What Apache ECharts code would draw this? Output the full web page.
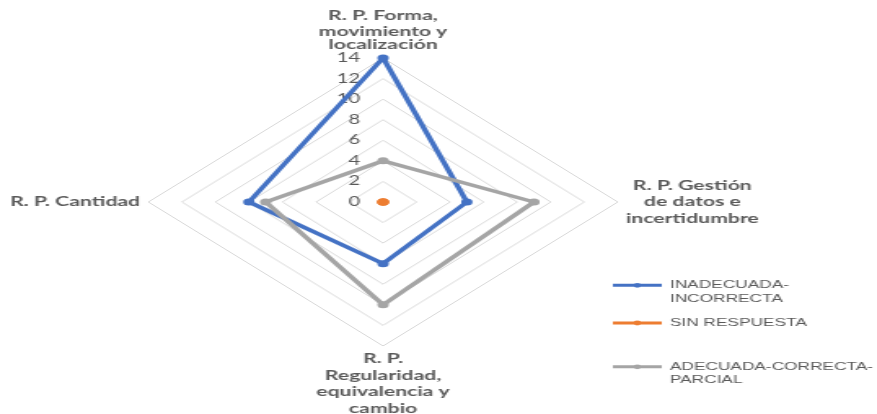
<!DOCTYPE html>
<html>
<head>
<meta charset="utf-8">
<script src="https://cdn.jsdelivr.net/npm/echarts@6/dist/echarts.min.js"></script>
<style>
  html, body { margin: 0; padding: 0; background: #fff; overflow: hidden; }
  #wrap { width: 877px; height: 414px; overflow: hidden; position: relative; }
  #chart { width: 538px; height: 414px; transform: scaleX(1.63); transform-origin: 0 0; }
</style>
</head>
<body>
<div id="wrap"><div id="chart"></div></div>
<script>
// ---- data ----
const indicatorNames = [
  'R. P. Forma,\nmovimiento y\nlocalización',
  'R. P. Cantidad',
  'R. P.\nRegularidad,\nequivalencia y\ncambio',
  'R. P. Gestión\nde datos e\nincertidumbre'
];
const seriesNames = ['INADECUADA-INCORRECTA', 'SIN RESPUESTA', 'ADECUADA-CORRECTA-PARCIAL'];
const legendLabels = ['INADECUADA-\nINCORRECTA', 'SIN RESPUESTA', 'ADECUADA-CORRECTA-\nPARCIAL'];
const inadecuada = [14, 8, 6, 5];
const sinRespuesta = [0, 0, 0, 0];
const adecuada = [4, 7, 10, 9];
const axisMax = 14;
const axisSplits = 7;

// ---- styling ----
const colors = ['#4472C4', '#ED7D31', '#A5A5A5'];
const icon2 = 'path://M0,0 L0.01,0 L0.01,0.01 Z M0,5.8 L30,5.8 L30,8.8 L0,8.8 Z M12.6,7.3 A2.4,2.4 0 1 1 17.4,7.3 A2.4,2.4 0 1 1 12.6,7.3 Z M0,28 L0.01,28 L0.01,27.99 Z';
const icon1 = 'path://M0,0 L0.01,0 L0.01,0.01 Z M0,5.5 L30,5.5 L30,8.5 L0,8.5 Z M12.6,7 A2.4,2.4 0 1 1 17.4,7 A2.4,2.4 0 1 1 12.6,7 Z M0,14 L0.01,14 L0.01,13.99 Z';

const chart = echarts.init(document.getElementById('chart'), null, { renderer: 'canvas' });

const legendText = {
  color: '#595959',
  fontFamily: '"Liberation Sans", Arial, sans-serif',
  fontSize: 10.6,
  lineHeight: 13.5
};
function mkLegend(i, top, icon, h) {
  return {
    left: 376,
    top: top,
    padding: 0,
    itemWidth: 30,
    itemHeight: h,
    itemGap: 0,
    itemSymbolKeepAspect: false,
    orient: 'vertical',
    selectedMode: false,
    data: [{ name: seriesNames[i], icon: icon, itemStyle: { color: colors[i] } }],
    formatter: function (n) { return legendLabels[seriesNames.indexOf(n)]; },
    textStyle: legendText
  };
}

const indicators = indicatorNames.map(function (n, i) {
  const ind = { name: n, min: 0, max: axisMax };
  if (i === 0) { ind.axisLabel = { show: true }; }
  return ind;
});

const nameFont = {
  align: 'center',
  color: '#595959',
  fontFamily: 'Lato, "Open Sans", sans-serif',
  fontWeight: 'bold',
  fontSize: 13,
  lineHeight: 16.5
};

chart.setOption({
  animation: false,
  color: colors,
  legend: [
    mkLegend(0, 278, icon2, 28),
    mkLegend(1, 316, icon1, 14),
    mkLegend(2, 359.5, icon2, 28)
  ],
  radar: {
    center: [235, 202],
    radius: 144,
    startAngle: 90,
    shape: 'polygon',
    splitNumber: axisSplits,
    indicator: indicators,
    nameGap: 5,
    axisName: {
      color: '#595959',
      fontFamily: 'Lato, "Open Sans", sans-serif',
      fontWeight: 'bold',
      fontSize: 13,
      lineHeight: 16.5,
      formatter: function (v) {
        const lines = v.split('\n');
        const top = indicatorNames.indexOf(v) === 0;
        return lines.map(function (s, k) {
          const st = (top && k === lines.length - 1) ? 'l' : 'n';
          return '{' + st + '|' + s + '}';
        }).join('\n');
      },
      rich: {
        n: nameFont,
        l: Object.assign({}, nameFont, { lineHeight: 10 })
      }
    },
    axisLine: { show: false },
    axisTick: { show: false },
    axisLabel: {
      show: false,
      color: '#595959',
      fontFamily: 'Lato, sans-serif',
      fontSize: 12.5,
      margin: 14
    },
    splitLine: { lineStyle: { color: '#D9D9D9', width: 1 } },
    splitArea: { show: false }
  },
  series: [
    {
      type: 'radar', name: seriesNames[0],
      symbol: 'circle', symbolSize: 7,
      lineStyle: { width: 3.5, color: colors[0] },
      itemStyle: { color: colors[0] },
      emphasis: { disabled: true },
      data: [{ name: seriesNames[0], value: inadecuada }]
    },
    {
      type: 'radar', name: seriesNames[1],
      symbol: 'circle', symbolSize: 7,
      lineStyle: { width: 3.5, color: colors[1] },
      itemStyle: { color: colors[1] },
      emphasis: { disabled: true },
      data: [{ name: seriesNames[1], value: sinRespuesta }]
    },
    {
      type: 'radar', name: seriesNames[2],
      symbol: 'circle', symbolSize: 7,
      lineStyle: { width: 3.5, color: colors[2] },
      itemStyle: { color: colors[2] },
      emphasis: { disabled: true },
      data: [{ name: seriesNames[2], value: adecuada }]
    }
  ]
});
</script>
</body>
</html>
